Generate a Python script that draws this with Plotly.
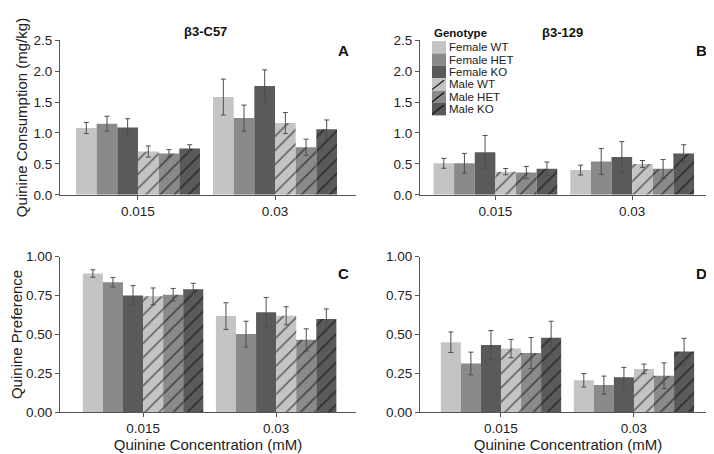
import plotly.graph_objects as go

W, H = 714, 454

concentrations = ["0.015", "0.03"]
genotypes = ["Female WT", "Female HET", "Female KO", "Male WT", "Male HET", "Male KO"]
fills = ["#c4c4c4", "#8a8a8a", "#5a5a5a", "#c4c4c4", "#8a8a8a", "#5a5a5a"]
hatched = [False, False, False, True, True, True]

# values per genotype, [0.015 mM, 0.03 mM]
c57_consumption = [[1.08, 1.58], [1.15, 1.24], [1.09, 1.76], [0.70, 1.16], [0.67, 0.77], [0.75, 1.06]]
c57_consumption_sem = [[0.09, 0.29], [0.12, 0.21], [0.14, 0.26], [0.09, 0.17], [0.06, 0.13], [0.06, 0.15]]

b129_consumption = [[0.51, 0.40], [0.51, 0.54], [0.69, 0.61], [0.375, 0.50], [0.36, 0.42], [0.42, 0.67]]
b129_consumption_sem = [[0.08, 0.08], [0.16, 0.21], [0.27, 0.25], [0.05, 0.055], [0.10, 0.15], [0.11, 0.14]]

c57_preference = [[0.892, 0.618], [0.836, 0.502], [0.751, 0.643], [0.745, 0.62], [0.755, 0.465], [0.79, 0.60]]
c57_preference_sem = [[0.024, 0.086], [0.031, 0.083], [0.063, 0.095], [0.054, 0.058], [0.041, 0.071], [0.039, 0.064]]

b129_preference = [[0.45, 0.205], [0.313, 0.174], [0.432, 0.224], [0.409, 0.278], [0.38, 0.234], [0.479, 0.39]]
b129_preference_sem = [[0.066, 0.043], [0.073, 0.058], [0.093, 0.064], [0.059, 0.031], [0.10, 0.083], [0.106, 0.085]]

FONT = "Liberation Sans, Arial, sans-serif"
TXT = "#222222"
AX = "#555555"


def px(x):
    return x / W


def py(y):
    return 1 - y / H


fig = go.Figure()

panels = [
    ("x", "y", c57_consumption, c57_consumption_sem),
    ("x2", "y2", b129_consumption, b129_consumption_sem),
    ("x3", "y3", c57_preference, c57_preference_sem),
    ("x4", "y4", b129_preference, b129_preference_sem),
]

for xa, ya, means, sems in panels:
    for i, g in enumerate(genotypes):
        fig.add_trace(go.Bar(
            x=concentrations, y=means[i], name=g,
            xaxis=xa, yaxis=ya, offsetgroup=str(i), showlegend=False,
            marker=dict(color=fills[i], line=dict(width=0),
                        pattern=dict(shape="/" if hatched[i] else "",
                                     fgcolor="#000000", size=10, solidity=0.16)),
            error_y=dict(type="data", array=sems[i], color="#4d4d4d",
                         thickness=1, width=2.5),
        ))

xstyle = dict(type="category", showline=True, linecolor=AX, linewidth=1,
              ticks="outside", ticklen=4, tickcolor=AX, showgrid=False,
              zeroline=False, tickfont=dict(size=13.5, color=TXT))
ystyle = dict(showline=True, linecolor=AX, linewidth=1, ticks="outside",
              ticklen=4, tickcolor=AX, showgrid=False, zeroline=False,
              tickfont=dict(size=13.5, color=TXT))

top = [py(186), py(26)]
bottom = [py(410.7), py(250)]
xtitle = dict(text="Quinine Concentration (mM)", font=dict(size=15, color=TXT), standoff=3)

fig.update_layout(
    width=W, height=H,
    margin=dict(l=0, r=0, t=0, b=0),
    paper_bgcolor="white", plot_bgcolor="white",
    font=dict(family=FONT, color=TXT),
    barmode="group", bargap=0.095, bargroupgap=0,
    xaxis=dict(xstyle, domain=[px(52), px(348)], range=[-0.569, 1.591], anchor="y"),
    yaxis=dict(ystyle, domain=top, range=[0, 2.5], dtick=0.5, tickformat=".1f", anchor="x",
               title=dict(text="Quinine Consumption (mg/kg)", font=dict(size=15, color=TXT), standoff=2)),
    xaxis2=dict(xstyle, domain=[px(412), px(708)], range=[-0.551, 1.613], anchor="y2"),
    yaxis2=dict(ystyle, domain=top, range=[0, 2.5], dtick=0.5, tickformat=".1f", anchor="x2"),
    xaxis3=dict(xstyle, domain=[px(52), px(348)], range=[-0.624, 1.60], anchor="y3", title=xtitle),
    yaxis3=dict(ystyle, domain=bottom, range=[0, 1], dtick=0.25, tickformat=".2f", anchor="x3",
                title=dict(text="Quinine Preference", font=dict(size=15, color=TXT), standoff=2)),
    xaxis4=dict(xstyle, domain=[px(412), px(708)], range=[-0.609, 1.617], anchor="y4", title=xtitle),
    yaxis4=dict(ystyle, domain=bottom, range=[0, 1], dtick=0.25, tickformat=".2f", anchor="x4"),
)

# strain titles and panel letters
notes = [("<b>β3-C57</b>", 197, 17, 13), ("<b>β3-129</b>", 554, 18, 13),
         ("<b>A</b>", 335, 37, 15), ("<b>B</b>", 693, 37, 15),
         ("<b>C</b>", 335, 267, 15), ("<b>D</b>", 693, 267, 15)]
for text, x, y, size in notes:
    fig.add_annotation(text=text, x=px(x), y=py(y), xref="paper", yref="paper",
                       showarrow=False, font=dict(size=size, color="#111111"),
                       xanchor="center", yanchor="middle")

# hand-drawn legend to keep the compact spacing
fig.add_annotation(text="<b>Genotype</b>", x=px(424), y=py(19), xref="paper", yref="paper",
                   showarrow=False, xanchor="left", yanchor="middle",
                   font=dict(size=11.5, color="#111111"))
step = 12.8
for i, g in enumerate(genotypes):
    y0 = 27 + i * step
    y1 = y0 + step
    fig.add_shape(type="rect", xref="paper", yref="paper",
                  x0=px(424), x1=px(438), y0=py(y1), y1=py(y0),
                  fillcolor=fills[i], line=dict(width=0))
    if hatched[i]:
        fig.add_shape(type="line", xref="paper", yref="paper",
                      x0=px(424), x1=px(436), y0=py(y1 - 1), y1=py(y0 + 2),
                      line=dict(color="#111111", width=1.2))
    fig.add_annotation(text=g, x=px(439), y=py((y0 + y1) / 2), xref="paper", yref="paper",
                       showarrow=False, xanchor="left", yanchor="middle",
                       font=dict(size=11.5, color=TXT))

fig.write_html("out.html")
